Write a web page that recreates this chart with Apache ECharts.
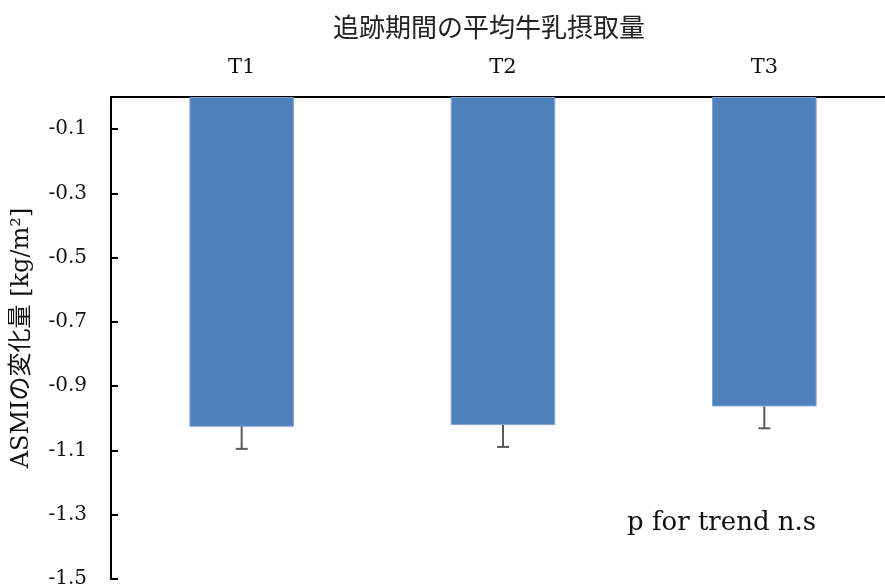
<!DOCTYPE html>
<html><head><meta charset="utf-8">
<script src="https://cdn.jsdelivr.net/npm/echarts@6/dist/echarts.min.js"></script>
<style>html,body{margin:0;padding:0;background:#fff}#c{width:885px;height:588px}</style>
</head><body><div id="c"></div>
<script>
const categories = ['T1', 'T2', 'T3'];
const meanValues = [-1.026, -1.021, -0.963];
const errorLow = [-1.095, -1.089, -1.031];
const titleText = '追跡期間の平均牛乳摂取量';
const yAxisName = 'ASMIの変化量 [kg/m²]';
const noteText = 'p for trend n.s';

const serif = '"DejaVu Serif", "Noto Sans CJK JP", serif';
const chart = echarts.init(document.getElementById('c'));
chart.setOption({
  animation: false,
  title: {
    text: titleText, left: 484, top: 9, textAlign: 'center',
    textStyle: { fontFamily: '"Noto Sans CJK JP"', fontSize: 26, fontWeight: 'normal', color: '#222' }
  },
  grid: { left: 111, top: 97, right: -10, bottom: 9, containLabel: false, outerBoundsMode: 'none' },
  xAxis: {
    type: 'category', data: categories, position: 'top',
    axisLine: { lineStyle: { color: '#000', width: 2 } },
    axisTick: { show: false },
    axisLabel: { fontFamily: serif, fontSize: 21, color: '#111', margin: 19 }
  },
  yAxis: {
    type: 'value', min: -1.5, max: 0, interval: 0.2,
    name: yAxisName, nameLocation: 'middle', nameGap: 77, nameRotate: 90,
    nameTextStyle: { fontFamily: serif, fontSize: 24, color: '#111' },
    axisLine: { show: true, lineStyle: { color: '#000', width: 2 } },
    axisTick: { show: true, inside: true, length: 7, lineStyle: { color: '#000', width: 2 } },
    splitLine: { show: false },
    axisLabel: { fontFamily: serif, fontSize: 20, color: '#111', margin: 24, showMaxLabel: false,
      formatter: v => v.toFixed(1) }
  },
  series: [
    { type: 'bar', data: meanValues, barWidth: '40%',
      itemStyle: { color: '#4F81BD', borderColor: '#7FA3D1', borderWidth: 1 } },
    { type: 'custom', data: categories.map((c, i) => [i, meanValues[i], errorLow[i]]),
      renderItem: (params, api) => {
        const top = api.coord([api.value(0), api.value(1)]);
        const bot = api.coord([api.value(0), api.value(2)]);
        const style = { stroke: '#595959', lineWidth: 2 };
        return { type: 'group', children: [
          { type: 'line', shape: { x1: top[0], y1: top[1], x2: bot[0], y2: bot[1] }, style },
          { type: 'line', shape: { x1: bot[0] - 6, y1: bot[1], x2: bot[0] + 6, y2: bot[1] }, style }
        ] };
      }, z: 5 }
  ],
  graphic: [
    { type: 'text', left: 627, top: 510,
      style: { text: noteText, fontFamily: serif, fontSize: 26, fill: '#111' } }
  ]
});
</script></body></html>
